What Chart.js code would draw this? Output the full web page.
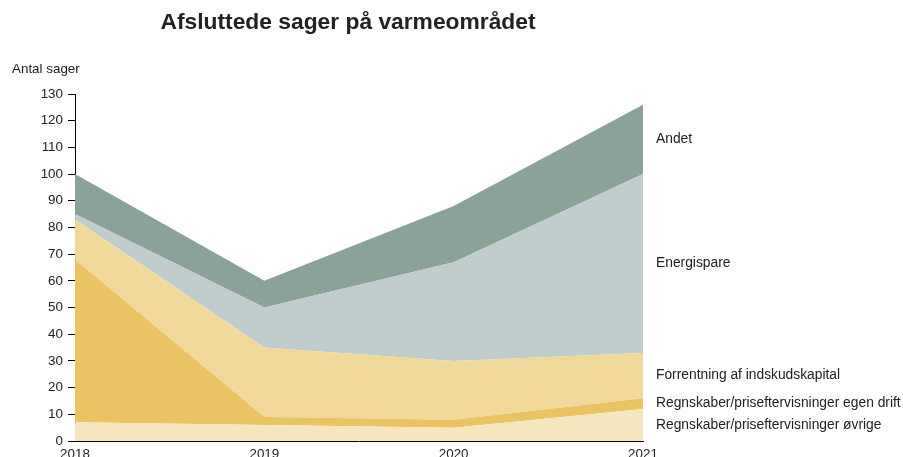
<!DOCTYPE html>
<html>
<head>
<meta charset="utf-8">
<script src="https://cdn.jsdelivr.net/npm/chart.js@4.4.1/dist/chart.umd.min.js"></script>
<style>
  html, body { margin: 0; padding: 0; background: #fff; }
  #wrap { width: 903px; height: 457px; position: relative; }
</style>
</head>
<body>
<div id="wrap"><canvas id="chart" width="903" height="457"></canvas></div>
<script>
// data (stacked, bottom to top)
var years = ['2018', '2019', '2020', '2021'];
var ovrige = [7, 6, 5, 12];
var egenDrift = [61, 3, 3, 4];
var forrentning = [15, 26, 22, 17];
var energispare = [2, 15, 37, 67];
var andet = [15, 10, 21, 26];

var seriesNames = [
    'Regnskaber/priseftervisninger øvrige',
    'Regnskaber/priseftervisninger egen drift',
    'Forrentning af indskudskapital',
    'Energispare',
    'Andet'
];
var seriesData = [ovrige, egenDrift, forrentning, energispare, andet];
var seriesColors = ['#f5e6c0', '#e8c462', '#f1d99b', '#c0cdcc', '#8aa297'];

var FONT = '"Liberation Sans", Arial, sans-serif';

// right-side labels, title and y axis caption
var labelPlugin = {
    id: 'labels',
    afterDraw: function(chart) {
        var ctx = chart.ctx;
        var y = chart.scales.y;
        var area = chart.chartArea;
        ctx.save();
        ctx.fillStyle = '#222';
        ctx.font = 'bold 22.8px ' + FONT;
        ctx.textAlign = 'center';
        ctx.textBaseline = 'middle';
        ctx.fillText('Afsluttede sager på varmeområdet', 348, 23);

        ctx.font = '13.4px ' + FONT;
        ctx.textAlign = 'left';
        ctx.fillText('Antal sager', 12, 69);

        // series names next to the last year, in the middle of each band
        ctx.font = '13.8px ' + FONT;
        var last = years.length - 1;
        var cum = 0;
        for (var i = 0; i < seriesData.length; i++) {
            var v = seriesData[i][last];
            var mid = cum + v / 2;
            cum += v;
            ctx.fillText(seriesNames[i], area.right + 13, y.getPixelForValue(mid));
        }
        ctx.restore();
    }
};

var datasets = seriesData.map(function(d, i) {
    return {
        label: seriesNames[i],
        data: d,
        backgroundColor: seriesColors[i],
        borderWidth: 0,
        pointRadius: 0,
        tension: 0,
        fill: i === 0 ? 'origin' : '-1'
    };
});

var ctx = document.getElementById('chart').getContext('2d');
new Chart(ctx, {
    type: 'line',
    data: { labels: years, datasets: datasets },
    options: {
        responsive: false,
        animation: false,
        layout: { padding: { top: 94, right: 260, left: 0, bottom: 0 } },
        plugins: {
            legend: { display: false },
            tooltip: { enabled: false }
        },
        scales: {
            x: {
                offset: false,
                afterFit: function(s) { s.height = 16; },
                grid: { drawOnChartArea: false, drawTicks: false },
                border: { color: '#000', width: 1 },
                ticks: { color: '#222', font: { family: FONT, size: 13.4 }, padding: 5, maxRotation: 0 }
            },
            y: {
                stacked: true,
                min: 0,
                max: 130,
                afterFit: function(s) { s.width = 75; },
                grid: { drawOnChartArea: false, drawTicks: true, tickLength: 7, color: '#000' },
                border: { color: '#000', width: 1 },
                ticks: { stepSize: 10, color: '#222', font: { family: FONT, size: 13.4 }, padding: 5 }
            }
        }
    },
    plugins: [labelPlugin]
});
</script>
</body>
</html>
